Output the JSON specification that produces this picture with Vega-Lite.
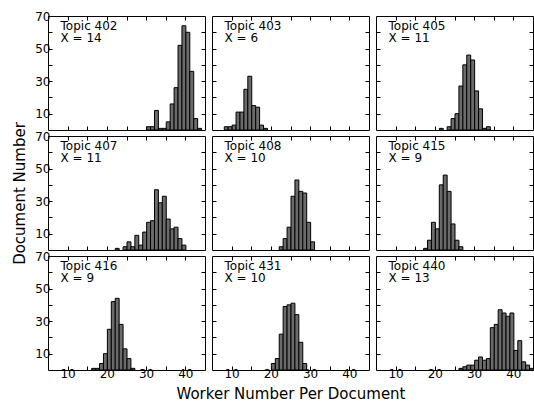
{
  "$schema": "https://vega.github.io/schema/vega-lite/v6.json",
  "padding": {"left": 12, "top": 9, "right": 0, "bottom": 0},
  "bounds": "flush",
  "config": {
    "font": "DejaVu Sans",
    "view": {"stroke": "black", "strokeWidth": 1},
    "axis": {"domain": false, "grid": false, "tickSize": -4, "tickColor": "black", "tickWidth": 1,
      "labelFont": "DejaVu Sans", "labelFontSize": 12, "labelColor": "black", "labelPadding": 2,
      "labelFlush": false, "labelBound": false, "labelOverlap": false,
      "titleFont": "DejaVu Sans", "titleFontSize": 15, "titleFontWeight": "normal", "titleColor": "black"},
    "axisLeft": {"titlePadding": 7},
    "axisBottom": {"titlePadding": 7},
    "text": {"font": "DejaVu Sans"}
  },
  "datasets": {
    "hist": [
      {"t":"402","x0":30,"x1":31,"n":2},{"t":"402","x0":31,"x1":32,"n":2},{"t":"402","x0":32,"x1":33,"n":12},{"t":"402","x0":33,"x1":34,"n":1},{"t":"402","x0":34,"x1":35,"n":1},{"t":"402","x0":35,"x1":36,"n":5},{"t":"402","x0":36,"x1":37,"n":16},{"t":"402","x0":37,"x1":38,"n":26},{"t":"402","x0":38,"x1":39,"n":52},{"t":"402","x0":39,"x1":40,"n":64},{"t":"402","x0":40,"x1":41,"n":60},{"t":"402","x0":41,"x1":42,"n":36},{"t":"402","x0":42,"x1":43,"n":7},{"t":"402","x0":43,"x1":44,"n":1},
      {"t":"403","x0":8,"x1":9,"n":2},{"t":"403","x0":9,"x1":10,"n":2},{"t":"403","x0":10,"x1":11,"n":3},{"t":"403","x0":11,"x1":12,"n":11},{"t":"403","x0":12,"x1":13,"n":11},{"t":"403","x0":13,"x1":14,"n":25},{"t":"403","x0":14,"x1":15,"n":33},{"t":"403","x0":15,"x1":16,"n":15},{"t":"403","x0":16,"x1":17,"n":14},{"t":"403","x0":17,"x1":18,"n":3},{"t":"403","x0":18,"x1":19,"n":1},
      {"t":"405","x0":21,"x1":22,"n":1},{"t":"405","x0":23,"x1":24,"n":2},{"t":"405","x0":24,"x1":25,"n":7},{"t":"405","x0":25,"x1":26,"n":10},{"t":"405","x0":26,"x1":27,"n":27},{"t":"405","x0":27,"x1":28,"n":40},{"t":"405","x0":28,"x1":29,"n":46},{"t":"405","x0":29,"x1":30,"n":43},{"t":"405","x0":30,"x1":31,"n":24},{"t":"405","x0":31,"x1":32,"n":13},{"t":"405","x0":32,"x1":33,"n":1},{"t":"405","x0":33,"x1":34,"n":2},
      {"t":"407","x0":22,"x1":23,"n":1},{"t":"407","x0":24,"x1":25,"n":2},{"t":"407","x0":25,"x1":26,"n":5},{"t":"407","x0":26,"x1":27,"n":2},{"t":"407","x0":27,"x1":28,"n":9},{"t":"407","x0":28,"x1":29,"n":3},{"t":"407","x0":29,"x1":30,"n":11},{"t":"407","x0":30,"x1":31,"n":17},{"t":"407","x0":31,"x1":32,"n":18},{"t":"407","x0":32,"x1":33,"n":37},{"t":"407","x0":33,"x1":34,"n":29},{"t":"407","x0":34,"x1":35,"n":33},{"t":"407","x0":35,"x1":36,"n":19},{"t":"407","x0":36,"x1":37,"n":13},{"t":"407","x0":37,"x1":38,"n":14},{"t":"407","x0":38,"x1":39,"n":7},{"t":"407","x0":39,"x1":40,"n":3},
      {"t":"408","x0":22,"x1":23,"n":2},{"t":"408","x0":23,"x1":24,"n":7},{"t":"408","x0":24,"x1":25,"n":14},{"t":"408","x0":25,"x1":26,"n":33},{"t":"408","x0":26,"x1":27,"n":43},{"t":"408","x0":27,"x1":28,"n":36},{"t":"408","x0":28,"x1":29,"n":35},{"t":"408","x0":29,"x1":30,"n":17},{"t":"408","x0":30,"x1":31,"n":5},
      {"t":"415","x0":17,"x1":18,"n":1},{"t":"415","x0":18,"x1":19,"n":6},{"t":"415","x0":19,"x1":20,"n":17},{"t":"415","x0":20,"x1":21,"n":13},{"t":"415","x0":21,"x1":22,"n":40},{"t":"415","x0":22,"x1":23,"n":46},{"t":"415","x0":23,"x1":24,"n":36},{"t":"415","x0":24,"x1":25,"n":16},{"t":"415","x0":25,"x1":26,"n":6},{"t":"415","x0":26,"x1":27,"n":2},
      {"t":"416","x0":16,"x1":17,"n":1},{"t":"416","x0":17,"x1":18,"n":1},{"t":"416","x0":18,"x1":19,"n":4},{"t":"416","x0":19,"x1":20,"n":10},{"t":"416","x0":20,"x1":21,"n":25},{"t":"416","x0":21,"x1":22,"n":42},{"t":"416","x0":22,"x1":23,"n":44},{"t":"416","x0":23,"x1":24,"n":28},{"t":"416","x0":24,"x1":25,"n":13},{"t":"416","x0":25,"x1":26,"n":7},{"t":"416","x0":26,"x1":27,"n":1},
      {"t":"431","x0":20,"x1":21,"n":4},{"t":"431","x0":21,"x1":22,"n":7},{"t":"431","x0":22,"x1":23,"n":22},{"t":"431","x0":23,"x1":24,"n":39},{"t":"431","x0":24,"x1":25,"n":40},{"t":"431","x0":25,"x1":26,"n":41},{"t":"431","x0":26,"x1":27,"n":34},{"t":"431","x0":27,"x1":28,"n":17},{"t":"431","x0":28,"x1":29,"n":4},
      {"t":"440","x0":26,"x1":27,"n":1},{"t":"440","x0":27,"x1":28,"n":2},{"t":"440","x0":28,"x1":29,"n":3},{"t":"440","x0":29,"x1":30,"n":3},{"t":"440","x0":30,"x1":31,"n":6},{"t":"440","x0":31,"x1":32,"n":8},{"t":"440","x0":32,"x1":33,"n":6},{"t":"440","x0":33,"x1":34,"n":7},{"t":"440","x0":34,"x1":35,"n":26},{"t":"440","x0":35,"x1":36,"n":28},{"t":"440","x0":36,"x1":37,"n":37},{"t":"440","x0":37,"x1":38,"n":35},{"t":"440","x0":38,"x1":39,"n":33},{"t":"440","x0":39,"x1":40,"n":35},{"t":"440","x0":40,"x1":41,"n":12},{"t":"440","x0":41,"x1":42,"n":18},{"t":"440","x0":42,"x1":43,"n":5},{"t":"440","x0":43,"x1":44,"n":3},{"t":"440","x0":44,"x1":45,"n":1}
    ],
    "labels": [
      {"t":"402","label":"Topic 402\nX = 14"},
      {"t":"403","label":"Topic 403\nX = 6"},
      {"t":"405","label":"Topic 405\nX = 11"},
      {"t":"407","label":"Topic 407\nX = 11"},
      {"t":"408","label":"Topic 408\nX = 10"},
      {"t":"415","label":"Topic 415\nX = 9"},
      {"t":"416","label":"Topic 416\nX = 9"},
      {"t":"431","label":"Topic 431\nX = 10"},
      {"t":"440","label":"Topic 440\nX = 13"}
    ]
  },
  "columns": 3,
  "spacing": {"row": 6, "column": 7},
  "concat": [
    {"width":157,"height":114,"resolve":{"axis":{"x":"independent","y":"independent"}},"layer":[
      {"data":{"name":"hist"},"transform":[{"filter":"datum.t == '402'"}],"mark":{"type":"bar","binSpacing":0,"fill":"#6b6b6b","stroke":"black","strokeWidth":1},
       "encoding":{"x":{"field":"x0","type":"quantitative","bin":{"binned":true},"scale":{"domain":[5,45],"nice":false,"zero":false},"axis":{"orient":"bottom","values":[10,15,20,25,30,35,40],"labels":false,"title":null}},"x2":{"field":"x1"},
        "y":{"field":"n","type":"quantitative","scale":{"domain":[0,70],"nice":false},"axis":{"orient":"left","values":[10,20,30,40,50,60,70],"labelExpr":"datum.value % 20 == 10 ? datum.label : ''","title":null}}}},
      {"data":{"name":"labels"},"transform":[{"filter":"datum.t == '402'"}],"mark":{"type":"text","align":"left","baseline":"top","fontSize":12,"lineHeight":12.5,"lineBreak":"\n","color":"black"},
       "encoding":{"x":{"datum":8.2,"type":"quantitative","axis":{"orient":"top","values":[10,15,20,25,30,35,40],"labels":false,"title":null}},"y":{"datum":67,"type":"quantitative","axis":{"orient":"right","values":[10,20,30,40,50,60],"labels":false,"title":null}},"text":{"field":"label"}}}
    ]},
    {"width":157,"height":114,"resolve":{"axis":{"x":"independent","y":"independent"}},"layer":[
      {"data":{"name":"hist"},"transform":[{"filter":"datum.t == '403'"}],"mark":{"type":"bar","binSpacing":0,"fill":"#6b6b6b","stroke":"black","strokeWidth":1},
       "encoding":{"x":{"field":"x0","type":"quantitative","bin":{"binned":true},"scale":{"domain":[5,45],"nice":false,"zero":false},"axis":{"orient":"bottom","values":[10,15,20,25,30,35,40],"labels":false,"title":null}},"x2":{"field":"x1"},
        "y":{"field":"n","type":"quantitative","scale":{"domain":[0,70],"nice":false},"axis":{"orient":"left","values":[10,20,30,40,50,60],"labels":false,"title":null}}}},
      {"data":{"name":"labels"},"transform":[{"filter":"datum.t == '403'"}],"mark":{"type":"text","align":"left","baseline":"top","fontSize":12,"lineHeight":12.5,"lineBreak":"\n","color":"black"},
       "encoding":{"x":{"datum":8.2,"type":"quantitative","axis":{"orient":"top","values":[10,15,20,25,30,35,40],"labels":false,"title":null}},"y":{"datum":67,"type":"quantitative","axis":{"orient":"right","values":[10,20,30,40,50,60],"labels":false,"title":null}},"text":{"field":"label"}}}
    ]},
    {"width":157,"height":114,"resolve":{"axis":{"x":"independent","y":"independent"}},"layer":[
      {"data":{"name":"hist"},"transform":[{"filter":"datum.t == '405'"}],"mark":{"type":"bar","binSpacing":0,"fill":"#6b6b6b","stroke":"black","strokeWidth":1},
       "encoding":{"x":{"field":"x0","type":"quantitative","bin":{"binned":true},"scale":{"domain":[5,45],"nice":false,"zero":false},"axis":{"orient":"bottom","values":[10,15,20,25,30,35,40],"labels":false,"title":null}},"x2":{"field":"x1"},
        "y":{"field":"n","type":"quantitative","scale":{"domain":[0,70],"nice":false},"axis":{"orient":"left","values":[10,20,30,40,50,60],"labels":false,"title":null}}}},
      {"data":{"name":"labels"},"transform":[{"filter":"datum.t == '405'"}],"mark":{"type":"text","align":"left","baseline":"top","fontSize":12,"lineHeight":12.5,"lineBreak":"\n","color":"black"},
       "encoding":{"x":{"datum":8.2,"type":"quantitative","axis":{"orient":"top","values":[10,15,20,25,30,35,40],"labels":false,"title":null}},"y":{"datum":67,"type":"quantitative","axis":{"orient":"right","values":[10,20,30,40,50,60],"labels":false,"title":null}},"text":{"field":"label"}}}
    ]},
    {"width":157,"height":114,"resolve":{"axis":{"x":"independent","y":"independent"}},"layer":[
      {"data":{"name":"hist"},"transform":[{"filter":"datum.t == '407'"}],"mark":{"type":"bar","binSpacing":0,"fill":"#6b6b6b","stroke":"black","strokeWidth":1},
       "encoding":{"x":{"field":"x0","type":"quantitative","bin":{"binned":true},"scale":{"domain":[5,45],"nice":false,"zero":false},"axis":{"orient":"bottom","values":[10,15,20,25,30,35,40],"labels":false,"title":null}},"x2":{"field":"x1"},
        "y":{"field":"n","type":"quantitative","scale":{"domain":[0,70],"nice":false},"axis":{"orient":"left","values":[10,20,30,40,50,60,70],"labelExpr":"datum.value % 20 == 10 ? datum.label : ''","title":"Document Number"}}}},
      {"data":{"name":"labels"},"transform":[{"filter":"datum.t == '407'"}],"mark":{"type":"text","align":"left","baseline":"top","fontSize":12,"lineHeight":12.5,"lineBreak":"\n","color":"black"},
       "encoding":{"x":{"datum":8.2,"type":"quantitative","axis":{"orient":"top","values":[10,15,20,25,30,35,40],"labels":false,"title":null}},"y":{"datum":67,"type":"quantitative","axis":{"orient":"right","values":[10,20,30,40,50,60],"labels":false,"title":null}},"text":{"field":"label"}}}
    ]},
    {"width":157,"height":114,"resolve":{"axis":{"x":"independent","y":"independent"}},"layer":[
      {"data":{"name":"hist"},"transform":[{"filter":"datum.t == '408'"}],"mark":{"type":"bar","binSpacing":0,"fill":"#6b6b6b","stroke":"black","strokeWidth":1},
       "encoding":{"x":{"field":"x0","type":"quantitative","bin":{"binned":true},"scale":{"domain":[5,45],"nice":false,"zero":false},"axis":{"orient":"bottom","values":[10,15,20,25,30,35,40],"labels":false,"title":null}},"x2":{"field":"x1"},
        "y":{"field":"n","type":"quantitative","scale":{"domain":[0,70],"nice":false},"axis":{"orient":"left","values":[10,20,30,40,50,60],"labels":false,"title":null}}}},
      {"data":{"name":"labels"},"transform":[{"filter":"datum.t == '408'"}],"mark":{"type":"text","align":"left","baseline":"top","fontSize":12,"lineHeight":12.5,"lineBreak":"\n","color":"black"},
       "encoding":{"x":{"datum":8.2,"type":"quantitative","axis":{"orient":"top","values":[10,15,20,25,30,35,40],"labels":false,"title":null}},"y":{"datum":67,"type":"quantitative","axis":{"orient":"right","values":[10,20,30,40,50,60],"labels":false,"title":null}},"text":{"field":"label"}}}
    ]},
    {"width":157,"height":114,"resolve":{"axis":{"x":"independent","y":"independent"}},"layer":[
      {"data":{"name":"hist"},"transform":[{"filter":"datum.t == '415'"}],"mark":{"type":"bar","binSpacing":0,"fill":"#6b6b6b","stroke":"black","strokeWidth":1},
       "encoding":{"x":{"field":"x0","type":"quantitative","bin":{"binned":true},"scale":{"domain":[5,45],"nice":false,"zero":false},"axis":{"orient":"bottom","values":[10,15,20,25,30,35,40],"labels":false,"title":null}},"x2":{"field":"x1"},
        "y":{"field":"n","type":"quantitative","scale":{"domain":[0,70],"nice":false},"axis":{"orient":"left","values":[10,20,30,40,50,60],"labels":false,"title":null}}}},
      {"data":{"name":"labels"},"transform":[{"filter":"datum.t == '415'"}],"mark":{"type":"text","align":"left","baseline":"top","fontSize":12,"lineHeight":12.5,"lineBreak":"\n","color":"black"},
       "encoding":{"x":{"datum":8.2,"type":"quantitative","axis":{"orient":"top","values":[10,15,20,25,30,35,40],"labels":false,"title":null}},"y":{"datum":67,"type":"quantitative","axis":{"orient":"right","values":[10,20,30,40,50,60],"labels":false,"title":null}},"text":{"field":"label"}}}
    ]},
    {"width":157,"height":114,"resolve":{"axis":{"x":"independent","y":"independent"}},"layer":[
      {"data":{"name":"hist"},"transform":[{"filter":"datum.t == '416'"}],"mark":{"type":"bar","binSpacing":0,"fill":"#6b6b6b","stroke":"black","strokeWidth":1},
       "encoding":{"x":{"field":"x0","type":"quantitative","bin":{"binned":true},"scale":{"domain":[5,45],"nice":false,"zero":false},"axis":{"orient":"bottom","values":[10,15,20,25,30,35,40],"labelExpr":"datum.value % 10 == 0 ? datum.label : ''","title":null}},"x2":{"field":"x1"},
        "y":{"field":"n","type":"quantitative","scale":{"domain":[0,70],"nice":false},"axis":{"orient":"left","values":[10,20,30,40,50,60,70],"labelExpr":"datum.value % 20 == 10 ? datum.label : ''","title":null}}}},
      {"data":{"name":"labels"},"transform":[{"filter":"datum.t == '416'"}],"mark":{"type":"text","align":"left","baseline":"top","fontSize":12,"lineHeight":12.5,"lineBreak":"\n","color":"black"},
       "encoding":{"x":{"datum":8.2,"type":"quantitative","axis":{"orient":"top","values":[10,15,20,25,30,35,40],"labels":false,"title":null}},"y":{"datum":67,"type":"quantitative","axis":{"orient":"right","values":[10,20,30,40,50,60],"labels":false,"title":null}},"text":{"field":"label"}}}
    ]},
    {"width":157,"height":114,"resolve":{"axis":{"x":"independent","y":"independent"}},"layer":[
      {"data":{"name":"hist"},"transform":[{"filter":"datum.t == '431'"}],"mark":{"type":"bar","binSpacing":0,"fill":"#6b6b6b","stroke":"black","strokeWidth":1},
       "encoding":{"x":{"field":"x0","type":"quantitative","bin":{"binned":true},"scale":{"domain":[5,45],"nice":false,"zero":false},"axis":{"orient":"bottom","values":[10,15,20,25,30,35,40],"labelExpr":"datum.value % 10 == 0 ? datum.label : ''","title":"Worker Number Per Document"}},"x2":{"field":"x1"},
        "y":{"field":"n","type":"quantitative","scale":{"domain":[0,70],"nice":false},"axis":{"orient":"left","values":[10,20,30,40,50,60],"labels":false,"title":null}}}},
      {"data":{"name":"labels"},"transform":[{"filter":"datum.t == '431'"}],"mark":{"type":"text","align":"left","baseline":"top","fontSize":12,"lineHeight":12.5,"lineBreak":"\n","color":"black"},
       "encoding":{"x":{"datum":8.2,"type":"quantitative","axis":{"orient":"top","values":[10,15,20,25,30,35,40],"labels":false,"title":null}},"y":{"datum":67,"type":"quantitative","axis":{"orient":"right","values":[10,20,30,40,50,60],"labels":false,"title":null}},"text":{"field":"label"}}}
    ]},
    {"width":157,"height":114,"resolve":{"axis":{"x":"independent","y":"independent"}},"layer":[
      {"data":{"name":"hist"},"transform":[{"filter":"datum.t == '440'"}],"mark":{"type":"bar","binSpacing":0,"fill":"#6b6b6b","stroke":"black","strokeWidth":1},
       "encoding":{"x":{"field":"x0","type":"quantitative","bin":{"binned":true},"scale":{"domain":[5,45],"nice":false,"zero":false},"axis":{"orient":"bottom","values":[10,15,20,25,30,35,40],"labelExpr":"datum.value % 10 == 0 ? datum.label : ''","title":null}},"x2":{"field":"x1"},
        "y":{"field":"n","type":"quantitative","scale":{"domain":[0,70],"nice":false},"axis":{"orient":"left","values":[10,20,30,40,50,60],"labels":false,"title":null}}}},
      {"data":{"name":"labels"},"transform":[{"filter":"datum.t == '440'"}],"mark":{"type":"text","align":"left","baseline":"top","fontSize":12,"lineHeight":12.5,"lineBreak":"\n","color":"black"},
       "encoding":{"x":{"datum":8.2,"type":"quantitative","axis":{"orient":"top","values":[10,15,20,25,30,35,40],"labels":false,"title":null}},"y":{"datum":67,"type":"quantitative","axis":{"orient":"right","values":[10,20,30,40,50,60],"labels":false,"title":null}},"text":{"field":"label"}}}
    ]}
  ]
}
